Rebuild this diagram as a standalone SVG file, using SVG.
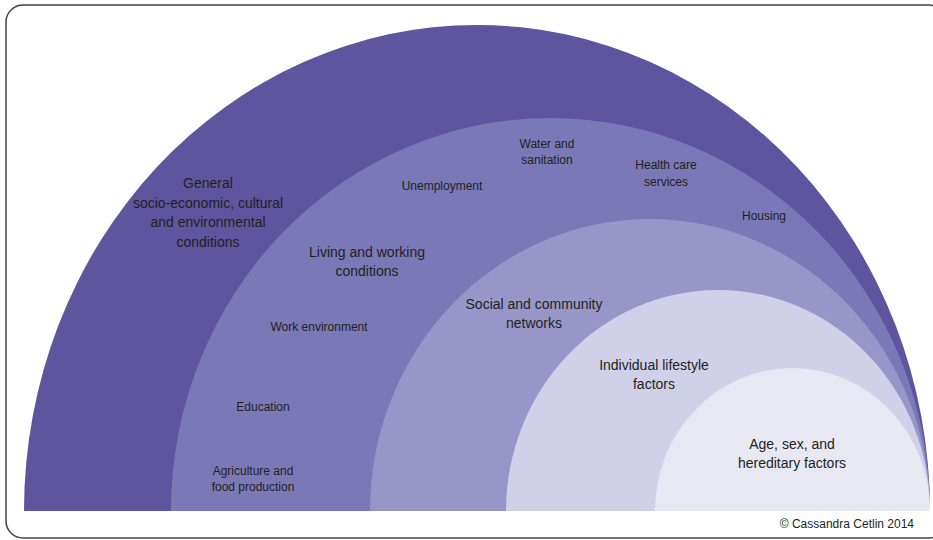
<svg xmlns="http://www.w3.org/2000/svg" width="933" height="540" viewBox="0 0 933 540">
<style>
text{font-family:"Liberation Sans Narrow","Liberation Sans",Arial,sans-serif;fill:#231f20;text-anchor:middle}
.big{font-size:14px}
.sm{font-size:12px}
.cp{font-size:12px;text-anchor:end}
</style>
<rect x="6" y="5" width="940" height="533" rx="17" fill="#fff" stroke="#444" stroke-width="1.5"/>
<g id="layer-general">
<path d="M24 511 A453 486 0 0 1 930 511 Z" fill="#5f559e"/>
<text class="big" x="208" y="188">General</text>
<text class="big" x="208" y="207.5">socio-economic, cultural</text>
<text class="big" x="208" y="227">and environmental</text>
<text class="big" x="208" y="246.5">conditions</text>
</g>
<g id="layer-living">
<path d="M171 511 A379.5 393 0 0 1 930 511 Z" fill="#7b78b8"/>
<text class="big" x="367" y="257">Living and working</text>
<text class="big" x="367" y="275.5">conditions</text>
<text class="sm" x="442" y="189.5">Unemployment</text>
<text class="sm" x="547" y="147.5">Water and</text>
<text class="sm" x="547" y="163.5">sanitation</text>
<text class="sm" x="666" y="168.5">Health care</text>
<text class="sm" x="666" y="185.5">services</text>
<text class="sm" x="764" y="219.5">Housing</text>
<text class="sm" x="319" y="330.5">Work environment</text>
<text class="sm" x="263" y="410.5">Education</text>
<text class="sm" x="253" y="474.5">Agriculture and</text>
<text class="sm" x="253" y="490.5">food production</text>
</g>
<g id="layer-social">
<path d="M370 511 A280 292 0 0 1 930 511 Z" fill="#9896c9"/>
<text class="big" x="534" y="309">Social and community</text>
<text class="big" x="534" y="328">networks</text>
</g>
<g id="layer-individual">
<path d="M506 511 A212 221 0 0 1 930 511 Z" fill="#d0d0e8"/>
<text class="big" x="654" y="370">Individual lifestyle</text>
<text class="big" x="654" y="389">factors</text>
</g>
<g id="layer-age">
<path d="M655 511 A137.5 143 0 0 1 930 511 Z" fill="#e8e8f3"/>
<text class="big" x="792" y="449">Age, sex, and</text>
<text class="big" x="792" y="468">hereditary factors</text>
</g>
<g id="connectors"></g>
<text class="cp" x="914" y="528">© Cassandra Cetlin 2014</text>
</svg>
